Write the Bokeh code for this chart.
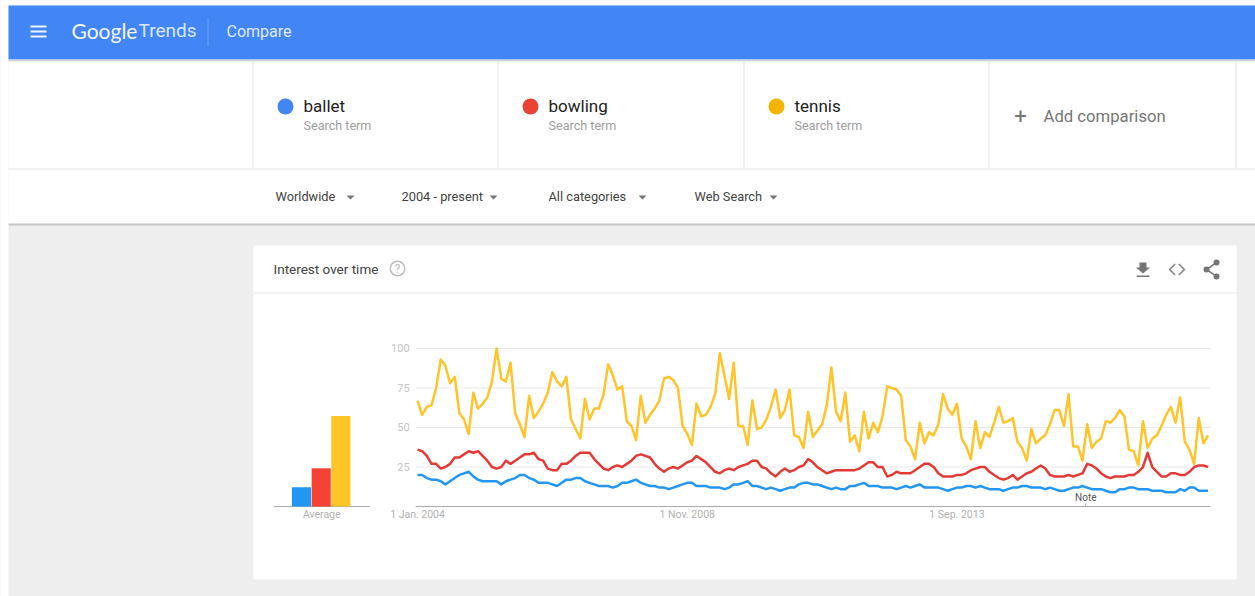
from bokeh.plotting import figure
from bokeh.embed import file_html
from bokeh.resources import INLINE
from bokeh.models import (BoxAnnotation, Label, PolyAnnotation, Range1d, FixedTicker)
from bokeh.core.properties import value

terms = ["ballet", "bowling", "tennis"]
term_note = "Search term"
filters = ["Worldwide", "2004 - present", "All categories", "Web Search"]
time_ticks = [0, 58, 116]
time_labels = ["1 Jan. 2004", "1 Nov. 2008", "1 Sep. 2013"]
y_ticks = [25, 50, 75, 100]
average_label = "Average"
note_month = 143.7
averages = [12.2, 24.2, 57.2]

ballet = [20,20,18,17,17,16,14,16,18,20,21,22,19,17,16,16,16,16,14,16,17,18,20,20,18,17,15,15,15,14,13,15,17,17,18,18,16,15,14,13,13,13,12,13,15,15,16,17,15,14,13,13,12,12,11,12,13,14,15,15,13,13,13,12,12,12,11,12,14,14,15,16,13,13,12,11,12,11,10,11,12,12,14,15,15,14,14,13,12,11,12,11,11,13,13,14,15,13,13,13,12,12,12,11,12,13,12,13,14,12,12,12,12,11,10,11,12,12,13,13,12,13,12,11,11,11,10,11,12,12,13,13,12,12,12,11,12,11,10,10,11,12,12,13,12,11,11,11,10,9,9,11,11,12,12,11,11,11,10,10,10,9,9,9,11,10,12,12,10,10,10]
bowling = [36,35,32,27,27,24,25,27,31,31,33,35,34,35,32,29,25,24,25,29,27,29,31,33,33,34,30,29,24,23,23,27,27,29,32,34,34,34,30,27,24,23,25,26,25,27,29,32,33,32,31,27,24,22,24,25,24,26,28,29,32,30,28,25,22,21,23,24,23,25,26,27,29,29,25,24,21,19,22,24,22,23,25,26,30,28,25,23,21,22,23,23,23,23,23,24,26,28,28,25,25,19,20,22,21,21,21,23,25,27,27,25,21,19,19,19,20,20,21,23,24,25,25,22,20,18,17,18,20,17,19,21,22,24,26,24,20,19,19,19,20,19,20,21,27,26,24,21,19,18,19,19,19,20,20,22,25,34,25,22,19,19,21,21,20,20,22,25,26,26,25]
tennis = [67,58,63,64,75,93,89,78,82,59,55,46,72,62,65,69,79,100,81,79,91,59,52,44,70,56,60,65,72,85,79,76,82,55,49,43,68,55,62,62,71,90,83,74,76,54,51,42,70,53,58,62,67,81,82,80,75,51,46,39,65,57,58,63,71,97,83,68,91,51,51,39,67,49,50,55,63,74,56,61,74,45,44,37,60,44,48,52,64,88,60,54,72,41,45,35,60,43,53,47,57,76,75,74,70,42,38,30,53,40,47,45,52,71,62,58,65,43,38,30,54,37,47,44,53,63,53,54,56,41,37,29,49,40,43,45,52,61,61,51,71,38,38,29,52,37,41,43,54,53,56,61,57,36,35,26,54,37,43,45,51,58,63,53,69,41,36,27,56,40,45]
months = list(range(len(tennis)))

BLUE, RED, YELLOW = "#2196f3", "#e53935", "#ffc42a"
W, H = 1255, 596
p = figure(width=W, height=H, output_backend="svg", toolbar_location=None,
           x_range=Range1d(-89.68, 180.2), y_range=Range1d(-56.9, 320.05),
           min_border=0,
           background_fill_color="#eeeeee", border_fill_color="#eeeeee", outline_line_color=None)
p.extra_x_ranges = {"avg": Range1d(-15.28, 48.43)}
p.xgrid.visible = False
p.ygrid.visible = False

DY = 1  # annotations in screen units sit one pixel lower than the axes' own scale
def box(l, t, r, b, color, radius=0):
    p.add_layout(BoxAnnotation(left=l, right=r, top=H-t+DY, bottom=H-b+DY,
                               left_units="screen", right_units="screen", top_units="screen", bottom_units="screen",
                               fill_color=color, fill_alpha=1, line_color=None, level="underlay",
                               border_radius=radius, editable=False))

def poly(xs, ys, color):
    p.add_layout(PolyAnnotation(xs=xs, ys=[H-y+DY for y in ys], xs_units="screen", ys_units="screen",
                                fill_color=color, fill_alpha=1, line_color=None, level="underlay"))

def label(x, y, text, size, color, font="Roboto", style="normal", align="left"):
    p.add_layout(Label(x=x, y=H-y+DY, x_units="screen", y_units="screen", text=text, text_font=font,
                       text_font_size=f"{size}px", text_color=color, text_font_style=style,
                       text_baseline="middle", text_align=align, level="underlay"))

# page chrome
box(0, 0, 8, 597, "#ffffff")
box(8, 0, 1255, 6, "#ffffff")
box(8, 6, 1255, 60, "#4285f4")
box(8, 60, 1255, 62, "#c9d3e6")
box(8, 62, 1255, 224, "#ffffff")
box(8, 224, 1255, 226, "#c6c6c6")
box(253, 246, 1236, 580, "#ffffff")
box(253, 293, 1236, 294, "#e8e8e8")
box(8, 169, 1255, 170, "#e4e4e4")
for x in [252, 497, 743, 988, 1235]:
    box(x, 61, x+1, 169, "#e4e4e4")
for y in [26, 31, 36]:
    box(30, y, 46, y+2, "#f2f6fe")
label(71, 31, "Google", 21, "#f2f6fe", "Lato", "normal")
label(138, 31, "Trends", 19, "#dbe7fd")
box(207, 19, 208, 47, "#6ea1f6")
label(226, 32, "Compare", 16, "#e0eafd")

for cx, term, col in zip([285, 530, 776], terms, ["#4285f4", "#ea4335", "#f4b400"]):
    box(cx-8, 99, cx+8, 115, col, 8)
    label(cx+18, 106, term, 17, "#212121")
    label(cx+18, 126, term_note, 12.6, "#9e9e9e")
label(1020, 116, "+", 22, "#757575", align="center")
label(1043, 117, "Add comparison", 16.7, "#757575")

for x, tri, f in zip([275, 401, 548, 694], [350, 493, 642, 773], filters):
    label(x, 197, f, 12.8, "#424242")
    poly([tri-4, tri+4, tri], [196, 196, 200], "#757575")

label(273, 269, "Interest over time", 13.5, "#424242")
box(389, 261, 405, 277, "#bdbdbd", 8)
box(390.5, 262.5, 403.5, 275.5, "#ffffff", 7)
label(397, 269.5, "?", 12, "#bdbdbd", align="center")

# card icons
poly([1139, 1146, 1146, 1149.5, 1142.5, 1135.5, 1139], [263, 263, 268, 268, 274, 268, 268], "#757575")
box(1136, 276, 1149, 277.5, "#757575")
poly([1174, 1168, 1174, 1175.2, 1170.4, 1175.2], [264, 270, 276, 275, 270, 265], "#8a8a8a")
poly([1179, 1185, 1179, 1177.8, 1182.6, 1177.8], [264, 270, 276, 275, 270, 265], "#8a8a8a")
poly([1206, 1215, 1215.7, 1207.5, 1215.7, 1215, 1206], [269, 263, 264.2, 270, 275.8, 277, 271], "#757575")
box(1203, 267, 1209, 273, "#757575", 3)
box(1213, 260, 1219, 266, "#757575", 3)
box(1213, 274, 1219, 280, "#757575", 3)

# gridlines and baselines
grid_x0, grid_x1 = -0.4, 170.5
p.segment(x0=[grid_x0]*len(y_ticks), x1=[grid_x1]*len(y_ticks), y0=y_ticks, y1=y_ticks, line_color="#e8e8e8", line_width=1)
p.segment(x0=[-30.9, grid_x0], x1=[-10.3, grid_x1], y0=[0, 0], y1=[0, 0], line_color="#a8a8a8", line_width=1)
p.segment(x0=[note_month], x1=[note_month], y0=[0], y1=[2], line_color="#a8a8a8", line_width=1)
p.text(x=[note_month], y=[5.5], text=["Note"], text_font=value("Roboto"), text_font_size="10px",
       text_color="#555555", text_align="center", text_baseline="middle")

# average bars
p.vbar(x=[0, 1, 2], top=averages, bottom=0, width=0.97, fill_color=["#2196f3", "#f44336", "#ffc524"],
       line_color=None, x_range_name="avg")

# series
for series, col in zip([tennis, bowling, ballet], [YELLOW, RED, BLUE]):
    p.line(months, series, line_color=col, line_width=2.5, line_join="round")

# axes
xa = p.xaxis[0]
xa.fixed_location = 0
avg_tick = -20.6
xa.ticker = FixedTicker(ticks=[avg_tick] + time_ticks)
xa.major_label_overrides = {avg_tick: average_label, **dict(zip(time_ticks, time_labels))}
xa.axis_line_color = None
xa.major_tick_line_color = None
xa.minor_tick_line_color = None
xa.major_tick_out = 0
xa.major_tick_in = 0
xa.major_label_text_color = "#b0b0b0"
xa.major_label_text_font = "Roboto"
xa.major_label_text_font_size = "10.5px"
xa.major_label_standoff = 1

ya = p.yaxis[0]
ya.fixed_location = -0.4
ya.ticker = FixedTicker(ticks=y_ticks)
ya.axis_line_color = None
ya.major_tick_line_color = None
ya.minor_tick_line_color = None
ya.major_tick_out = 0
ya.major_tick_in = 0
ya.major_label_text_color = "#c4c4c4"
ya.major_label_text_font = "Roboto"
ya.major_label_text_font_size = "11px"
ya.major_label_standoff = 6

open("out.html", "w").write(file_html(p, INLINE))
